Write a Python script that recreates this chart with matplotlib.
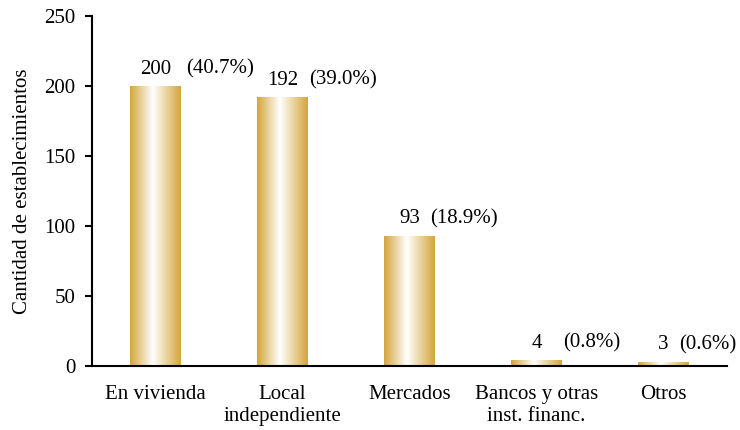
import numpy as np
import matplotlib
matplotlib.use("Agg")
import matplotlib.pyplot as plt
from matplotlib.colors import LinearSegmentedColormap

categories = ["En vivienda", "Local\nindependiente", "Mercados", "Bancos y otras\ninst. financ.", "Otros"]
values = [200, 192, 93, 4, 3]
percents = ["(40.7%)", "(39.0%)", "(18.9%)", "(0.8%)", "(0.6%)"]
yticks = [0, 50, 100, 150, 200, 250]
ylabel = "Cantidad de establecimientos"

# label offsets (points) of the percentage text from bar centre
pct_offsets = [22, 19, 15, 19, 11]

plt.rcParams['font.family'] = ['Liberation Serif', 'DejaVu Serif']

fig = plt.figure(figsize=(7.4, 4.3), dpi=100)
ax = fig.add_axes([92/740, 1-366/430, (727-92)/740, (366-16)/430])

gold = (0.83, 0.645, 0.23)
cmap = LinearSegmentedColormap.from_list("g", [(0, gold), (0.45, (1, 1, 1)), (1.0, gold)])
grad = np.linspace(0, 1, 256).reshape(1, -1)

width = 0.4
x = np.arange(len(categories))
bars = ax.bar(x, values, width=width, color='none', edgecolor='none')
for b in bars:
    x0, y0 = b.get_x(), b.get_y()
    w, h = b.get_width(), b.get_height()
    im = ax.imshow(grad, cmap=cmap, aspect='auto', extent=[x0, x0 + w, y0, y0 + h],
                   interpolation='bicubic', zorder=2)
    im.set_clip_path(b)

for xi, v, p, off in zip(x, values, percents, pct_offsets):
    ax.annotate(str(v), (xi, v), xytext=(0, 9), textcoords='offset points',
                ha='center', va='baseline', fontsize=15)
    ax.annotate(p, (xi, v), xytext=(off, 9), textcoords='offset points',
                ha='left', va='baseline', fontsize=15)

ax.set_xlim(-0.5, len(categories) - 0.5)
ax.set_ylim(0, 250)
ax.set_yticks(yticks)
ax.set_yticklabels([str(t) for t in yticks], fontsize=15)
ax.set_xticks(x)
ax.set_xticklabels(categories, fontsize=15, linespacing=1.2)
ax.tick_params(axis='x', length=0, pad=14)
ax.tick_params(axis='y', length=5, width=1.5, pad=7, direction='out')
ax.set_ylabel(ylabel, fontsize=15, labelpad=9)
for s in ['top', 'right']:
    ax.spines[s].set_visible(False)
for s in ['left', 'bottom']:
    ax.spines[s].set_linewidth(1.5)

fig.savefig("out.png", dpi=100)
